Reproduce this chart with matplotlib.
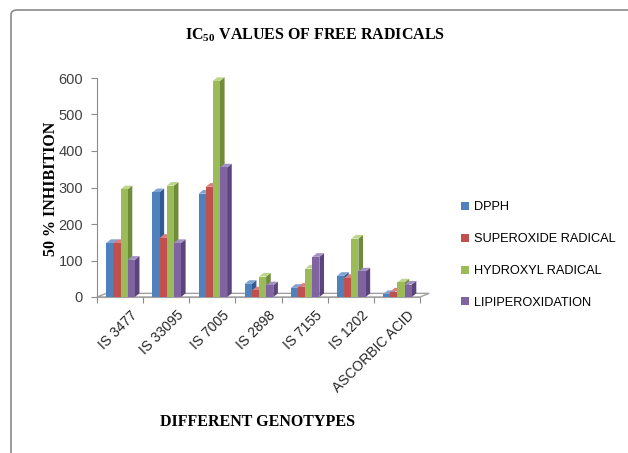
import matplotlib
matplotlib.use("Agg")
import matplotlib.pyplot as plt
from matplotlib.patches import Polygon, FancyBboxPatch
import numpy as np

plt.rcParams['mathtext.fontset'] = 'custom'
plt.rcParams['mathtext.rm'] = 'Liberation Serif:bold'
plt.rcParams['mathtext.bf'] = 'Liberation Serif:bold'
plt.rcParams['mathtext.default'] = 'bf'

genotypes = ["IS 3477", "IS 33095", "IS 7005", "IS 2898", "IS 7155", "IS 1202", "ASCORBIC ACID"]
series_names = ["DPPH", "SUPEROXIDE RADICAL", "HYDROXYL RADICAL", "LIPIPEROXIDATION"]
dpph = [148, 287, 283, 36, 25, 58, 8]
superoxide = [148, 162, 302, 18, 28, 52, 15]
hydroxyl = [295, 305, 592, 56, 78, 160, 40]
lipiperox = [102, 148, 355, 32, 110, 70, 34]
yticks = [0, 100, 200, 300, 400, 500, 600]

front = ["#4F81BD", "#C0504D", "#9BBB59", "#8064A2"]
side = ["#2F5C94", "#8E302D", "#6F8C3A", "#5B437C"]
top = ["#7FA3D3", "#D8807D", "#BCD68A", "#A390C4"]

SANS = ["Liberation Sans"]

W, H = 628, 453
fig = plt.figure(figsize=(W / 100, H / 100), dpi=100)

# outer chart frame
frame = FancyBboxPatch((11 / W, -0.05), 1.1, (H - 10) / H + 0.05,
                       boxstyle="round,pad=0,rounding_size=0.01",
                       transform=fig.transFigure, fill=False,
                       edgecolor="#8a8a8a", linewidth=1.2)
fig.patches.append(frame)

x0, x1 = 97, 420
y0, y1 = 297, 78
ax = fig.add_axes([x0 / W, (H - y0) / H, (x1 - x0) / W, (y0 - y1) / H])
ax.set_xlim(0, len(genotypes))
ax.set_ylim(0, 600)
ax.set_facecolor("none")
for s in ["top", "right"]:
    ax.spines[s].set_visible(False)
ax.spines["left"].set_color("#8c8c8c")
ax.spines["bottom"].set_color("#a0a0a0")

bw = 0.155
dx, dy = 0.10, 10.0
values = [dpph, superoxide, hydroxyl, lipiperox]

# floor of the 3D plot
ax.add_patch(Polygon([(0, 0), (len(genotypes), 0), (len(genotypes) + dx * 2, dy),
                      (dx * 2, dy)], closed=True, facecolor="none",
                     edgecolor="#a0a0a0", linewidth=1.0, clip_on=False))

handles = []
for k, vals in enumerate(values):
    for i, v in enumerate(vals):
        left = i + 0.2 + k * bw
        # side face
        ax.add_patch(Polygon([(left + bw, 0), (left + bw + dx, dy),
                              (left + bw + dx, v + dy), (left + bw, v)],
                             closed=True, facecolor=side[k], edgecolor="none",
                             clip_on=False, zorder=2 + k))
        # top face
        ax.add_patch(Polygon([(left, v), (left + bw, v), (left + bw + dx, v + dy),
                              (left + dx, v + dy)], closed=True,
                             facecolor=top[k], edgecolor="none",
                             clip_on=False, zorder=2 + k))
    h = ax.bar([i + 0.2 + k * bw for i in range(len(vals))], vals, width=bw,
               align="edge", color=front[k], zorder=2.5 + k, clip_on=False,
               label=series_names[k])
    handles.append(h)

ax.set_yticks(yticks)
ax.set_yticklabels([str(t) for t in yticks], fontsize=10.5, color="#404040",
                   family=SANS)
ax.tick_params(axis="y", length=4, color="#8c8c8c", pad=6)

ax.set_xticks(np.arange(len(genotypes) + 1))
ax.set_xticklabels([])
ax.tick_params(axis="x", length=4, color="#8c8c8c", direction="out")

for i, g in enumerate(genotypes):
    ax.text(i + 0.72, -30, g, rotation=45, ha="right", va="top",
            rotation_mode="anchor", fontsize=10, color="#262626",
            family=SANS)

fig.text(315 / W, 1 - 35 / H, r"IC$_{50}$ VALUES OF FREE RADICALS", ha="center",
         va="center", fontsize=11.5, fontweight="bold", family="Liberation Serif")
fig.text(51 / W, 1 - 189 / H, "50 % INHIBITION", rotation=90, ha="center",
         va="center", fontsize=11.5, fontweight="bold", family="Liberation Serif")
fig.text(258 / W, 1 - 422 / H, "DIFFERENT GENOTYPES", ha="center", va="center",
         fontsize=11.5, fontweight="bold", family="Liberation Serif")

leg = fig.legend(handles=handles, labels=series_names, loc="upper left",
                 bbox_to_anchor=(450 / W, 1 - 190 / H), frameon=False,
                 prop={"family": SANS, "size": 9.2},
                 handlelength=0.6, handleheight=0.6, handletextpad=0.4,
                 labelspacing=1.55)

fig.savefig("out.png", dpi=100)
